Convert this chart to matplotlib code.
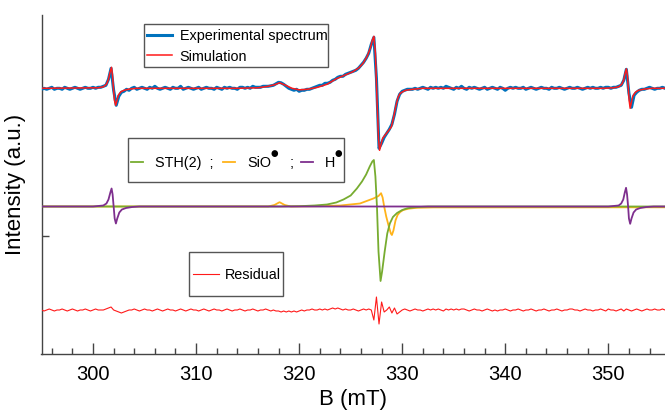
import numpy as np
import matplotlib
matplotlib.use("Agg")
import matplotlib.pyplot as plt
from matplotlib.patches import Rectangle

plt.rcParams['font.family'] = ['Liberation Sans', 'DejaVu Sans']

# ---------------- data ----------------
# experimental field axis (mT), 0.25 mT step
exp_field = np.arange(295.0, 355.51, 0.25)
exp_signal = [
    -1, 0, -1, 0, 1, -1, 0, 0,          # 295-297
    -1, 1, 0, -1, 0, 1, 0, -1,          # 297-299
    0, 1, 0, 0, 1, 0, 1, 1,             # 299-301
    2, 3, 9, 20, -2, -17, -8, -4,       # 301-303
    -3, -1, -2, 0, 1, -1, 0, 1,         # 303-305
    0, -1, 1, 0, 2, 0, -1, 0,           # 305-307
    1, 0, -1, 1, 0, 0, 2, -1,           # 307-309
    0, 1, 0, -1, 0, 1, -1, 0,           # 309-311
    1, 0, 0, -1, 1, 0, -1, 1,           # 311-313
    0, 1, 0, 0, -1, 1, 1, 0,            # 313-315
    1, 0, 2, 1, 1, 1, 2, 2,             # 315-317
    2, 2.5, 3, 4.5, 6, 5.5, 4, 2,       # 317-319
    0, -1, -2, -1, -3, -2, -2, -1,      # 319-321
    -1, 0, 1, 2, 3, 3, 5, 5,            # 321-323
    6, 8, 9, 11, 12, 12, 14, 15,        # 323-325
    16, 17, 18, 20, 23, 26, 30, 35,     # 325-327
    44, 51, 10, -60, -55, -49, -45, -41,  # 327-329
    -36, -26, -13, -6, -3, -2, -1, -1,  # 329-331
    -1, 0, -1, 0, 1, 0, -1, 1,          # 331-333
    0, 1, 0, 1, 0, 2, 1, 0,             # 333-335
    -1, 1, 0, 2, 0, -1, 1, 0,           # 335-337
    1, 0, -1, 0, 1, -1, 0, 1,           # 337-339
    0, -1, 1, 0, -2, 0, 1, 0,           # 339-341
    1, 0, 0, 1, -1, 0, 1, 0,            # 341-343
    -1, 0, 1, 0, 0, -1, 1, 0,           # 343-345
    0, 1, 0, -1, 0, 1, 0, 0,            # 345-347
    1, 0, -1, 0, 1, 0, 1, 0,            # 347-349
    0, 1, 0, 1, 1, 0, 1, 1,             # 349-351
    2, 3, 8, 19, -5, -19, -7, -4,       # 351-353
    -2, -1, -1, 0, 1, 0, -1, 0,         # 353-355
    0, 1, 0,                            # 355-355.5
]

# simulated spectrum
sim_field = [295.0, 300.5, 301.0, 301.3, 301.5, 301.65, 301.79, 301.88, 301.98, 302.08,
             302.2, 302.3, 302.45, 302.7, 303.0, 303.5, 304.2,
             314.0, 316.0, 317.0, 317.6, 318.1, 318.7, 319.3, 320.0, 320.8, 321.8,
             322.7, 323.6, 324.4, 325.2, 325.8, 326.2, 326.6, 326.9, 327.1, 327.25,
             327.4, 327.55, 327.7, 327.8, 327.95, 328.1, 328.4, 328.7, 328.95, 329.15,
             329.3, 329.45, 329.6, 329.8, 330.3, 331.0, 332.0,
             349.5, 350.5, 351.0, 351.3, 351.5, 351.63, 351.75, 351.85, 351.94, 352.02,
             352.12, 352.22, 352.37, 352.62, 352.92, 353.5, 354.2, 355.5]
sim_signal = [0, 0.5, 1.5, 4, 9, 16, 21, 14, 0, -12,
              -17, -13, -7, -3.5, -2, -0.8, 0,
              0, 0.5, 2, 3.5, 5.5, 3, 0, -1.5, -1, 1,
              4, 9.5, 13, 16.5, 20.5, 25, 32, 40, 48, 52,
              35, -10, -50, -62, -56, -50, -46, -42, -38.5, -30,
              -22, -15, -9, -5, -2, -1, 0,
              0, 0.5, 1.5, 4, 8.5, 15, 19.5, 13, 0, -12,
              -20, -15, -8, -4, -2, -0.8, 0, 0]

# simulated components
sth_field = [295.0, 318.0, 320.0, 321.5, 322.7, 323.6, 324.3, 325.0, 325.6, 326.1,
             326.5, 326.85, 327.1, 327.25, 327.4, 327.55, 327.7, 327.9, 328.05, 328.3,
             328.55, 328.8, 329.1, 329.5, 330.0, 330.5, 331.2, 332.5, 355.5]
sth_signal = [0, 0, 0.3, 1, 2, 4, 7, 11, 18, 25,
              32, 40, 45, 46.5, 30, 0, -45, -74.5, -65, -45,
              -27, -17, -10.5, -6.5, -3.5, -1.8, -0.8, 0, 0]

sio_field = [295.0, 317.0, 317.6, 318.1, 318.6, 319.2, 322.0, 324.0, 325.9, 327.2,
             327.7, 327.95, 328.1, 328.25, 328.45, 328.7, 328.9, 329.0, 329.15, 329.35,
             329.55, 329.8, 330.1, 330.6, 331.4, 333.0, 355.5]
sio_signal = [0, 0, 1.5, 4.3, 1.5, 0, 0.3, 1, 3, 8,
              10.5, 13.3, 9, 0, -10, -20, -27, -28.5, -24, -14,
              -8.5, -5.5, -3.5, -2.2, -1.3, -0.9, -0.8]

h_field = [295.0, 300.0, 301.0, 301.3, 301.5, 301.68, 301.8, 301.9, 302.0, 302.1,
           302.22, 302.35, 302.55, 302.8, 303.2, 303.8, 304.5,
           350.0, 351.0, 351.25, 351.45, 351.6, 351.72, 351.82, 351.92, 352.0,
           352.12, 352.25, 352.45, 352.7, 353.1, 353.7, 354.4, 355.5]
h_signal = [0, 0, 1, 3, 7, 14, 18, 12, 0, -12,
            -17, -12, -6, -3, -1.5, -0.5, 0,
            0, 1, 3, 7, 14, 18.7, 12, 0, -12,
            -17.3, -12, -6, -3, -1.5, -0.5, 0, 0]

# residual (experiment - simulation), same field axis as the experiment
res_signal = [
    0, -1, 0, 1, 0, -1, 0, 0,           # 295-297
    1, 0, -1, 0, 1, 0, -1, 0,           # 297-299
    0, 1, 0, -1, 0, 1, 0, 0,            # 299-301
    0, 1, 2, 3, 0, -1, -2, -3,          # 301-303
    -2, -1, 0, 0, 1, 0, -1, 0,          # 303-305
    1, 0, 0, -1, 0, 1, 0, -1,           # 305-307
    0, 1, 0, 0, -1, 0, 1, 0,            # 307-309
    -1, 0, 1, 0, 0, -1, 0, 1,           # 309-311
    0, -1, 0, 1, 0, 0, -1, 0,           # 311-313
    1, 0, -1, 0, 0, 1, 0, -1,           # 313-315
    0, 0, 1, 0, -1, 0, 0, 1,            # 315-317
    0, -1, 0, -1, -1, -2, -1, -2,       # 317-319
    -1, -2, -1, -2, -1, 0, -1, 0,       # 319-321
    0, 1, 0, 0, 1, 0, 1, 0,             # 321-323
    1, 2, 1, 2, 1, 0, 1, 0,             # 323-325
    0, 1, 0, -1, 0, 1, 0, 1,            # 325-327
    0, -10, 13, -14, 8, -2, 0, 3,       # 327-329
    -3, 2, -4, -2, 0, 1, 0, -1,         # 329-331
    0, 1, 0, 0, -1, 0, 1, 0,            # 331-333
    1, 0, 1, 0, -1, 1, 0, 1,            # 333-335
    0, 1, 0, 1, 1, 0, -1, 0,            # 335-337
    1, 0, 0, -1, 0, 1, 0, -1,           # 337-339
    0, -1, 0, 0, 1, 0, -1, 0,           # 339-341
    0, 1, 0, -1, 0, 0, 1, 0,            # 341-343
    -1, 0, 0, 1, 0, -1, 0, 0,           # 343-345
    1, 0, -1, 0, 0, 1, 1, 0,            # 345-347
    0, -1, 0, 1, 0, 0, -1, 0,           # 347-349
    0, 1, 0, -1, 1, 0, 0, -1,           # 349-351
    0, 1, -1, 1, 0, -1, 0, 1,           # 351-353
    0, -1, 0, 1, 0, 0, 1, 0,            # 353-355
    0, 1, 0,                            # 355-355.5
]

# vertical stacking of the three panels
off_spec = 266.0
off_comp = 147.8
off_res = 44.3

# ---------------- figure ----------------
W, H = 665, 417
fig = plt.figure(figsize=(W / 100, H / 100), dpi=100)
ax_x0, ax_top, ax_bot = 41.5, 15.0, 354.3
ax = fig.add_axes([ax_x0 / W, (H - ax_bot) / H, (W - ax_x0) / W, (ax_bot - ax_top) / H])

c_blue, c_red = '#0072BD', '#FF1A1A'
c_green, c_orange, c_purple = '#77AC30', '#FFB31A', '#7E2F8E'

ax.plot(exp_field, np.asarray(exp_signal) + off_spec, color=c_blue, lw=2.2,
        label='Experimental spectrum', zorder=3)
ax.plot(sim_field, np.asarray(sim_signal) + off_spec, color=c_red, lw=1.1,
        label='Simulation', zorder=4)

l_sth, = ax.plot(sth_field, np.asarray(sth_signal) + off_comp, color=c_green, lw=1.3, zorder=3)
l_sio, = ax.plot(sio_field, np.asarray(sio_signal) + off_comp, color=c_orange, lw=1.3, zorder=2)
l_h, = ax.plot(h_field, np.asarray(h_signal) + off_comp, color=c_purple, lw=1.3, zorder=4)

l_res, = ax.plot(exp_field, np.asarray(res_signal) + off_res, color=c_red, lw=0.8, zorder=3)

ax.set_xlim(295, 355.5)
ax.set_ylim(0, ax_bot - ax_top)

for s in ('top', 'right'):
    ax.spines[s].set_visible(False)
for s in ('left', 'bottom'):
    ax.spines[s].set_color('#444444')
    ax.spines[s].set_linewidth(1.0)

ax.set_xticks(np.arange(300, 351, 10))
ax.set_xticks(np.arange(296, 356, 2), minor=True)
ax.set_yticks([ax_bot - 236])
ax.set_yticklabels([])
ax.tick_params(axis='x', which='major', direction='in', length=8, width=1,
               color='#444444', labelsize=14.5, pad=8)
ax.tick_params(axis='x', which='minor', direction='in', length=4.3, width=1, color='#444444')
ax.tick_params(axis='y', which='major', direction='in', length=5, width=1, color='#444444')

ax.set_xlabel('B (mT)', fontsize=16, labelpad=3)
ax.set_ylabel('Intensity (a.u.)', fontsize=16, labelpad=8)

# legend boxes (pixel extents) and legend contents
def box(x0, y0, x1, y1):
    r = Rectangle((x0 / W, 1 - y1 / H), (x1 - x0) / W, (y1 - y0) / H,
                  transform=fig.transFigure, facecolor='white', edgecolor='#555555',
                  linewidth=1.0, zorder=6, clip_on=False)
    ax.add_patch(r)

def anchor(px, py):
    return (px / W, 1 - py / H)

leg_fs = 10.4
leg_kw = dict(frameon=False, fontsize=leg_fs, borderpad=0, borderaxespad=0,
              loc='center left', bbox_transform=fig.transFigure)

def add_legend(handles, labels, px, py, **kw):
    leg = ax.legend(handles, labels, bbox_to_anchor=anchor(px, py), **leg_kw, **kw)
    leg.set_zorder(7)
    ax.add_artist(leg)
    return leg

box(144, 24, 328, 67)
h1, lab1 = ax.get_legend_handles_labels()
add_legend(h1, lab1, 146.5, 46.5, handlelength=1.75, handletextpad=0.55, labelspacing=0.42)

# component key: one entry per species, radicals get a raised dot
box(128, 138, 344, 182)
key_y = 163.0
comp_kw = dict(handlelength=0.83, handletextpad=0.85)
add_legend([l_sth], ['STH(2)  ;'], 130.7, key_y, **comp_kw)
leg_sio = add_legend([l_sio], ['SiO'], 222.7, key_y, **comp_kw)
leg_h = add_legend([l_h], ['H'], 300.7, key_y, **comp_kw)

box(189, 252, 283, 296)
add_legend([l_res], ['Residual'], 192.5, 275, handlelength=1.8, handletextpad=0.45)

# every legend is already attached as an artist; avoid drawing the last one twice
ax.legend_ = None

fig.canvas.draw()
renderer = fig.canvas.get_renderer()
for leg in (leg_sio, leg_h):
    bb = leg.get_texts()[0].get_window_extent(renderer)
    fig.text((bb.x1 + 2.8) / W, 1 - 153.5 / H, '●', fontsize=6.2,
             ha='center', va='center', family='DejaVu Sans', zorder=8)
bb_sio = leg_sio.get_texts()[0].get_window_extent(renderer)
fig.text((bb_sio.x1 + 20.5) / W, 1 - key_y / H, ';', fontsize=leg_fs,
         ha='center', va='center', zorder=8)

fig.savefig('out.png', dpi=100)
